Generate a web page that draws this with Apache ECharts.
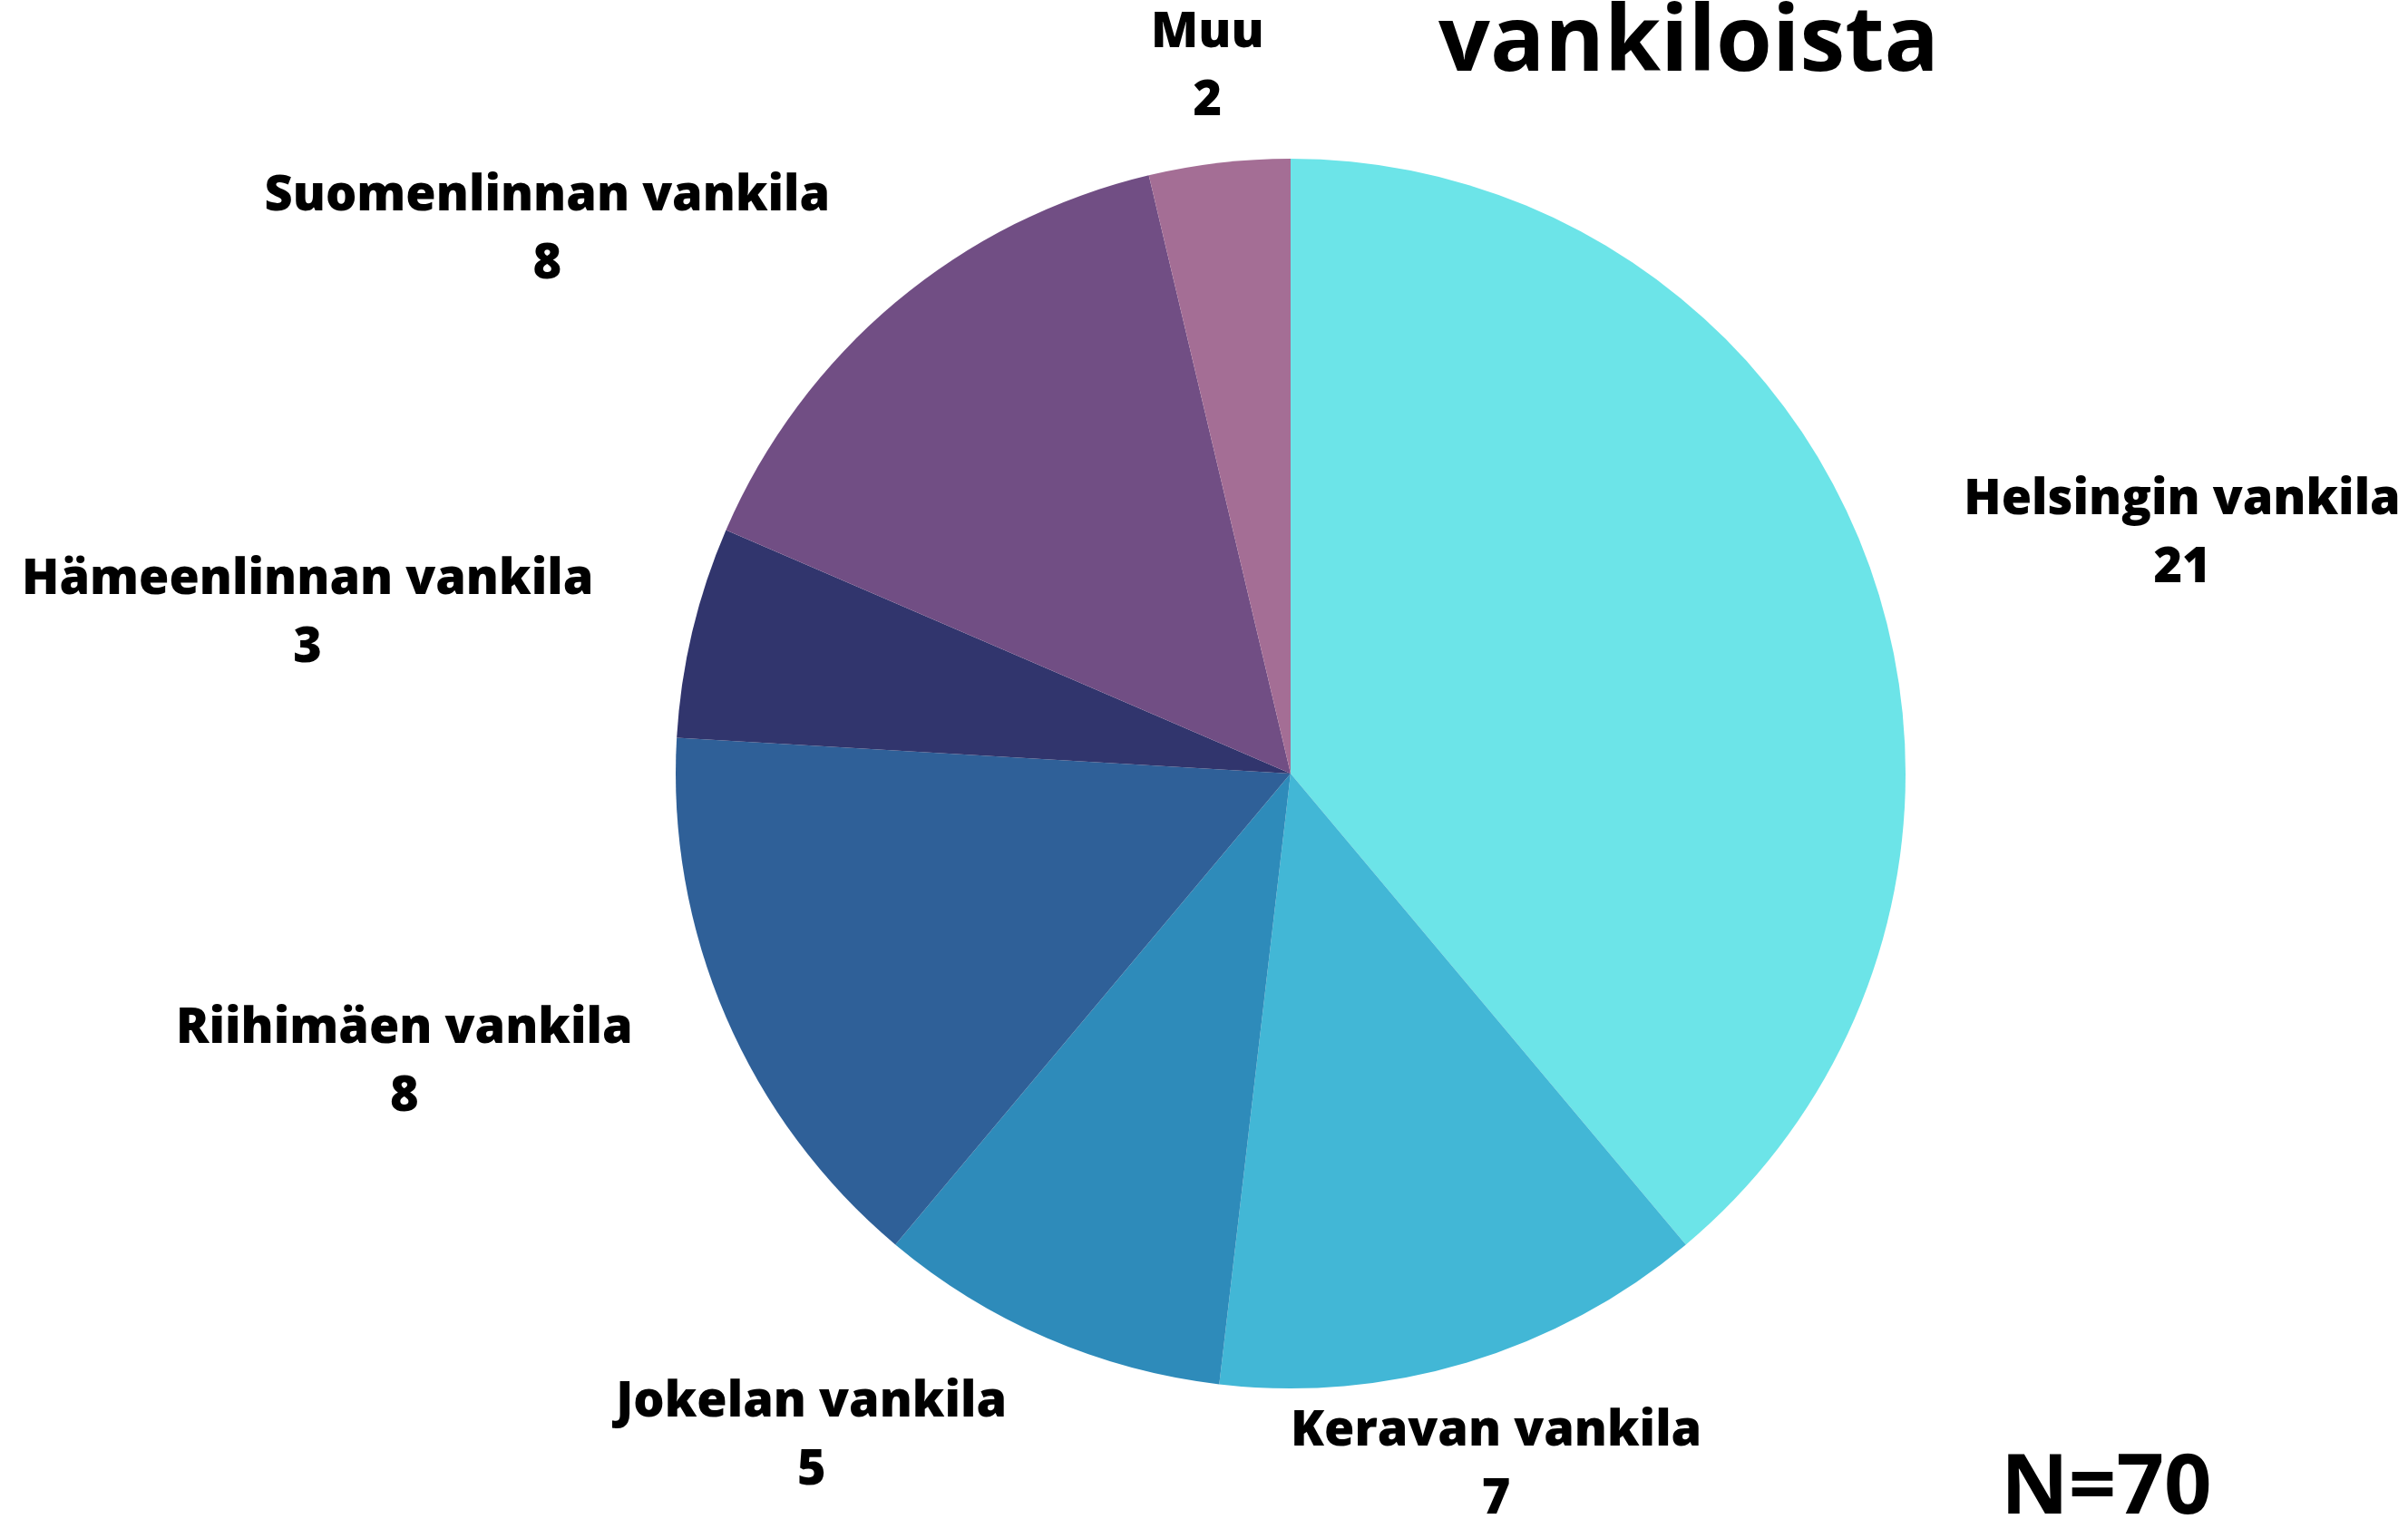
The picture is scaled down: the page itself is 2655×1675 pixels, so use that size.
<!DOCTYPE html>
<html>
<head>
<meta charset="utf-8">
<script src="https://cdn.jsdelivr.net/npm/echarts@6/dist/echarts.min.js"></script>
<style>
  html, body { margin: 0; padding: 0; background: #fff; }
  #chartPie { width: 2655px; height: 1675px; }
</style>
</head>
<body>
<div id="chartPie"></div>
<script>
// vankilat ja vastaajien määrät
const prisons = [
  "Helsingin vankila",
  "Keravan vankila",
  "Jokelan vankila",
  "Riihimäen vankila",
  "Hämeenlinnan vankila",
  "Suomenlinnan vankila",
  "Muu"
];
const counts = [21, 7, 5, 8, 3, 8, 2];
const sliceColors = ["#6ce4e8", "#42b7d6", "#2e8bba", "#2f6098", "#31356d", "#714e84", "#a46e95"];
const titleText = "vankiloista";
const noteText = "N=70";

const total = counts.reduce((a, b) => a + b, 0);
const pieCenter = [1423, 853];
const pieRadius = 678;
const labelRadius = 790;

const chartPie = echarts.init(document.getElementById("chartPie"));

let textFont = {
  fontFamily: "Open Sans",
  fontWeight: 800,
  fontSize: 54,
  lineHeight: 75,
  color: "#000"
};

chartPie.setOption({
  backgroundColor: "#fff",
  animation: false,
  title: [
    {
      text: titleText,
      left: 1586,
      top: 0,
      padding: 0,
      textStyle: { fontFamily: "Open Sans", fontWeight: "bold", fontSize: 100, color: "#000" }
    },
    {
      text: noteText,
      left: 2206,
      top: 1597,
      padding: 0,
      textStyle: { fontFamily: "Open Sans", fontWeight: "bold", fontSize: 92, color: "#000" }
    }
  ],
  series: [
    {
      type: "pie",
      center: pieCenter,
      radius: pieRadius,
      startAngle: 90,
      clockwise: true,
      data: prisons.map((name, i) => ({
        name: name,
        value: counts[i],
        itemStyle: { color: sliceColors[i] }
      })),
      label: {
        show: true,
        position: "inside",
        formatter: "{t|{b}}\n{t|{c}}",
        ...textFont,
        rich: {
          t: { ...textFont, align: "center" }
        }
      },
      labelLine: { show: false },
      // labels sit at a fixed radius along the slice's mid angle
      labelLayout(params) {
        let i = params.dataIndex;
        let before = 0;
        for (let k = 0; k < i; k++) before += counts[k];
        let mid = ((before + counts[i] / 2) / total) * Math.PI * 2;
        let s = Math.sin(mid);
        let c = Math.cos(mid);
        let align = Math.abs(s) < 0.35 ? "center" : s > 0 ? "left" : "right";
        return {
          x: pieCenter[0] + labelRadius * s,
          y: pieCenter[1] - labelRadius * c + 6,
          align: align,
          verticalAlign: "middle"
        };
      },
      emphasis: { disabled: true }
    }
  ]
});
</script>
</body>
</html>
